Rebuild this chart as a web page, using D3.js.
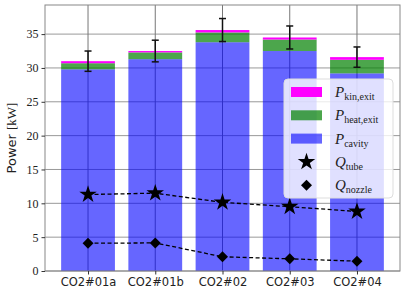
<!DOCTYPE html>
<html>
<head>
<meta charset="utf-8">
<script src="https://d3js.org/d3.v7.min.js"></script>
<style>
  body { margin: 0; background: #fff; }
  .serif { font-family: "Liberation Serif", "DejaVu Serif", serif; }
  .sans { font-family: "DejaVu Sans", sans-serif; }
</style>
</head>
<body>
<div id="chart"></div>
<script>
// data
var cases = ["CO2#01a", "CO2#01b", "CO2#02", "CO2#03", "CO2#04"];
var pCavity = [29.8, 31.3, 33.8, 32.5, 29.2];
var pHeatExit = [0.9, 1.0, 1.45, 1.7, 2.0];
var pKinExit = [0.3, 0.2, 0.35, 0.3, 0.4];
var errTotal = [1.5, 1.6, 1.7, 1.7, 1.5];
var qTube = [11.3, 11.5, 10.15, 9.5, 8.8];
var qNozzle = [4.1, 4.15, 2.1, 1.8, 1.45];
var yTicks = [0, 5, 10, 15, 20, 25, 30, 35];

var width = 407, height = 296;
var margin = { left: 45, right: 7, top: 5, bottom: 25 };
var iw = width - margin.left - margin.right;
var ih = height - margin.top - margin.bottom;

var svg = d3.select("#chart").append("svg")
    .attr("width", width).attr("height", height);
var g = svg.append("g").attr("transform", "translate(" + margin.left + "," + margin.top + ")");

// category positions like matplotlib: bars 0.8 wide, 5% margins
var x = d3.scaleLinear().domain([-0.64, cases.length - 1 + 0.64]).range([0, iw]);
var y = d3.scaleLinear().domain([0, 39.3]).range([ih, 0]);
var bw = x(0.8) - x(0);

// grid
g.selectAll(".hgrid").data(yTicks).enter().append("line")
    .attr("x1", 0).attr("x2", iw)
    .attr("y1", function (d) { return y(d); }).attr("y2", function (d) { return y(d); })
    .attr("stroke", "#999").attr("stroke-width", 1);
g.selectAll(".vgrid").data(cases).enter().append("line")
    .attr("x1", function (d, i) { return x(i); }).attr("x2", function (d, i) { return x(i); })
    .attr("y1", 0).attr("y2", ih)
    .attr("stroke", "#777").attr("stroke-width", 1);

// stacked bars
var stacks = [
    { vals: pCavity, color: "#0000ff", op: 0.6 },
    { vals: pHeatExit, color: "#008000", op: 0.7 },
    { vals: pKinExit, color: "#ff00ff", op: 1 }
];
var base = cases.map(function () { return 0; });
stacks.forEach(function (s) {
    g.selectAll(null).data(s.vals).enter().append("rect")
        .attr("x", function (d, i) { return x(i) - bw / 2; })
        .attr("width", bw)
        .attr("y", function (d, i) { return y(base[i] + d); })
        .attr("height", function (d, i) { return y(base[i]) - y(base[i] + d); })
        .attr("fill", s.color).attr("fill-opacity", s.op);
    s.vals.forEach(function (d, i) { base[i] += d; });
});

// error bars on totals
var totals = base.slice();
var eb = g.append("g").attr("stroke", "#111").attr("stroke-width", 1.5);
totals.forEach(function (t, i) {
    var cx = x(i);
    eb.append("line").attr("x1", cx).attr("x2", cx).attr("y1", y(t - errTotal[i])).attr("y2", y(t + errTotal[i]));
    [t - errTotal[i], t + errTotal[i]].forEach(function (v) {
        eb.append("line").attr("x1", cx - 3.5).attr("x2", cx + 3.5).attr("y1", y(v)).attr("y2", y(v));
    });
});

// dashed lines with markers
var line = d3.line().x(function (d, i) { return x(i); }).y(function (d) { return y(d); });
[qTube, qNozzle].forEach(function (s) {
    g.append("path").datum(s).attr("d", line)
        .attr("fill", "none").attr("stroke", "#000").attr("stroke-width", 1.3)
        .attr("stroke-dasharray", "4,2.5");
});
var star = d3.symbol().type(d3.symbolStar).size(95);
var diamond = d3.symbol().type(d3.symbolSquare).size(60);
g.selectAll(null).data(qTube).enter().append("path")
    .attr("d", star)
    .attr("transform", function (d, i) { return "translate(" + x(i) + "," + y(d) + ")"; })
    .attr("fill", "#000");
g.selectAll(null).data(qNozzle).enter().append("path")
    .attr("d", diamond)
    .attr("transform", function (d, i) { return "translate(" + x(i) + "," + y(d) + ") rotate(45)"; })
    .attr("fill", "#000");

// frame
g.append("rect").attr("width", iw).attr("height", ih)
    .attr("fill", "none").attr("stroke", "#888").attr("stroke-width", 1);

// axes
var yAxis = g.append("g").call(d3.axisLeft(y).tickValues(yTicks).tickSize(3.5).tickPadding(3));
yAxis.select(".domain").remove();
yAxis.selectAll("text").attr("class", "serif").style("font-size", "12px").attr("fill", "#222");
yAxis.selectAll("line").attr("stroke", "#333");

var xAxis = g.append("g").attr("transform", "translate(0," + ih + ")")
    .call(d3.axisBottom(x).tickValues(d3.range(cases.length)).tickSize(3.5).tickPadding(3)
        .tickFormat(function (d) { return cases[d]; }));
xAxis.select(".domain").remove();
xAxis.selectAll("text").attr("class", "sans").style("font-size", "11.5px").attr("fill", "#222");
xAxis.selectAll("line").attr("stroke", "#333");

// y label
var yl = svg.append("text")
    .attr("transform", "translate(16," + (margin.top + ih / 2) + ") rotate(-90)")
    .attr("text-anchor", "middle").style("font-size", "13px").attr("fill", "#222");
yl.append("tspan").attr("class", "sans").text("Power ");
yl.append("tspan").attr("class", "serif").text("[kW]");

// legend
var lg = svg.append("g").attr("transform", "translate(284,79)");
lg.append("rect").attr("width", 109).attr("height", 119).attr("rx", 4)
    .attr("fill", "#fff").attr("fill-opacity", 0.8).attr("stroke", "#ddd");
var items = [
    { type: "patch", color: "#ff00ff", op: 1, main: "P", sub: "kin,exit" },
    { type: "patch", color: "#008000", op: 0.7, main: "P", sub: "heat,exit" },
    { type: "patch", color: "#0000ff", op: 0.6, main: "P", sub: "cavity" },
    { type: "star", main: "Q", sub: "tube" },
    { type: "diamond", main: "Q", sub: "nozzle" }
];
items.forEach(function (it, i) {
    var cy = 13 + i * 23.3;
    var row = lg.append("g").attr("transform", "translate(0," + cy + ")");
    if (it.type === "patch") {
        row.append("rect").attr("x", 7).attr("y", -5).attr("width", 31).attr("height", 10)
            .attr("fill", it.color).attr("fill-opacity", it.op);
    } else {
        row.append("path").attr("d", it.type === "star" ? star : diamond)
            .attr("transform", "translate(22.5,0) rotate(" + (it.type === "star" ? 0 : 45) + ")")
            .attr("fill", "#000");
    }
    var t = row.append("text").attr("class", "serif").attr("x", 51).attr("y", 5).attr("fill", "#222");
    t.append("tspan").style("font-size", "15px").style("font-style", "italic").text(it.main);
    t.append("tspan").attr("dy", 3).style("font-size", "10px").text(it.sub);
});
</script>
</body>
</html>
